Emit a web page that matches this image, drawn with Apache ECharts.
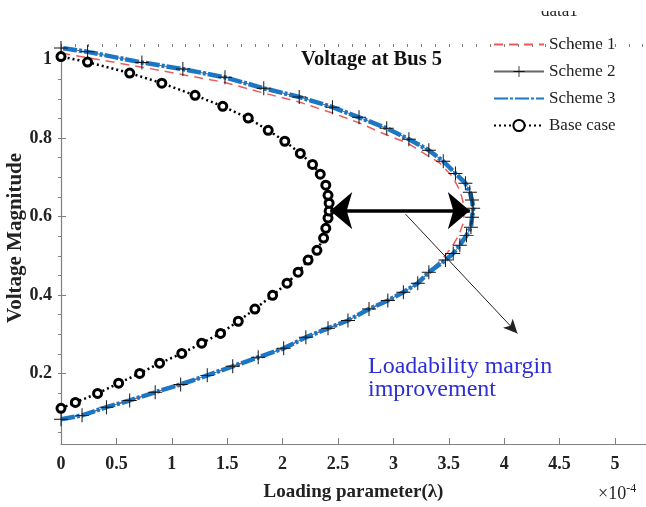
<!DOCTYPE html>
<html>
<head>
<meta charset="utf-8">
<script src="https://cdn.jsdelivr.net/npm/echarts@6/dist/echarts.min.js"></script>
<style>
  html, body { margin: 0; padding: 0; background: #fff; }
  #chart { width: 646px; height: 507px; }
</style>
</head>
<body>
<div id="chart"></div>
<script>
// loading parameter (x1e-4) and voltage magnitude
const scheme3Load = [0, 0.19, 0.41, 0.62, 0.85, 1.08, 1.32, 1.55, 1.78, 2.01, 2.21, 2.41, 2.59, 2.78, 2.95, 3.09, 3.22, 3.32, 3.47, 3.54, 3.60, 3.66, 3.70, 3.71, 3.72, 3.71, 3.69, 3.65, 3.56, 3.45, 3.32, 3.14, 2.94, 2.69, 2.45, 2.15, 1.83, 1.48, 1.10, 0.73, 0.24, 0]
const scheme3Volt = [0.083, 0.093, 0.114, 0.131, 0.152, 0.172, 0.195, 0.218, 0.241, 0.264, 0.292, 0.315, 0.335, 0.364, 0.386, 0.407, 0.430, 0.458, 0.489, 0.506, 0.527, 0.552, 0.573, 0.598, 0.621, 0.642, 0.662, 0.685, 0.710, 0.741, 0.769, 0.797, 0.825, 0.853, 0.879, 0.905, 0.927, 0.955, 0.976, 0.993, 1.020, 1.030]

// scheme 2 sits right on top of scheme 3
const scheme2Load = scheme3Load
const scheme2Volt = scheme3Volt

const scheme1Load = [0, 0.19, 0.41, 0.62, 0.85, 1.08, 1.32, 1.55, 1.78, 2.01, 2.21, 2.41, 2.59, 2.78, 2.95, 3.09, 3.22, 3.32, 3.47, 3.53, 3.59, 3.63, 3.64, 3.63, 3.60, 3.53, 3.42, 3.13, 2.88, 2.70, 2.45, 2.15, 1.83, 1.48, 0.73, 0]
const scheme1Volt = [0.083, 0.093, 0.114, 0.131, 0.152, 0.172, 0.195, 0.218, 0.241, 0.264, 0.292, 0.315, 0.335, 0.364, 0.386, 0.407, 0.430, 0.458, 0.501, 0.524, 0.552, 0.583, 0.611, 0.636, 0.667, 0.703, 0.736, 0.787, 0.815, 0.838, 0.864, 0.892, 0.915, 0.942, 0.981, 1.017]

const baseLoad = [0, 0.13, 0.33, 0.52, 0.71, 0.89, 1.09, 1.27, 1.44, 1.60, 1.75, 1.91, 2.04, 2.14, 2.23, 2.31, 2.37, 2.39, 2.41, 2.42, 2.42, 2.41, 2.39, 2.34, 2.27, 2.16, 2.02, 1.87, 1.69, 1.46, 1.21, 0.91, 0.62, 0.24, 0]
const baseVolt = [0.111, 0.126, 0.149, 0.175, 0.200, 0.226, 0.251, 0.277, 0.302, 0.333, 0.364, 0.399, 0.430, 0.458, 0.489, 0.514, 0.545, 0.570, 0.596, 0.614, 0.634, 0.654, 0.680, 0.708, 0.733, 0.761, 0.792, 0.820, 0.851, 0.881, 0.909, 0.940, 0.966, 0.994, 1.008]

// tick labels
const xTicks = [0, 0.5, 1, 1.5, 2, 2.5, 3, 3.5, 4, 4.5, 5]
const yTicks = [0.2, 0.4, 0.6, 0.8, 1]

// annotation arrows (data coords)
const marginArrow = [[2.43, 0.615], [3.69, 0.615]]
const pointerArrow = [[3.11, 0.606], [4.12, 0.302]]

const xMinor = []
for (let i = 0; i <= 42; i++) xMinor.push(i * 0.125)
const yMinor = []
for (let i = 1; i <= 20; i++) yMinor.push(+(i * 0.05).toFixed(2))

const pairs = (xs, ys) => xs.map((x, i) => [x, ys[i]])

const serif = "'Liberation Serif', 'Times New Roman', serif"
const plus = 'path://M-0.07,-1H0.07V-0.07H1V0.07H0.07V1H-0.07V0.07H-1V-0.07H-0.07Z'

const chart = echarts.init(document.getElementById('chart'), null, { renderer: 'canvas' })

const axisBase = {
    type: 'value',
    splitLine: { show: false },
}

const option = {
    animation: false,
    backgroundColor: '#fff',
    grid: { left: 61, right: 0, top: 44, bottom: 63, containLabel: false, outerBoundsMode: 'none' },
    xAxis: [
        {
            ...axisBase,
            min: 0,
            max: 5.28,
            name: 'Loading parameter(λ)',
            nameLocation: 'middle',
            nameGap: 39,
            nameTextStyle: { fontFamily: serif, fontWeight: 'bold', fontSize: 19, color: '#222' },
            axisLine: { lineStyle: { color: '#808080', width: 1.2 } },
            axisTick: { inside: true, length: 6, customValues: xTicks, lineStyle: { color: '#808080' } },
            axisLabel: { customValues: xTicks, margin: 11, fontFamily: serif, fontWeight: 'bold', fontSize: 18, color: '#222' },
        },
        {
            ...axisBase,
            min: 0,
            max: 5.28,
            axisLine: { show: false },
            axisTick: { inside: true, length: 3, customValues: xMinor, lineStyle: { color: '#808080' } },
            axisLabel: { show: false },
        },
    ],
    yAxis: [
        {
            ...axisBase,
            min: 0.02,
            max: 1.04,
            axisLine: { show: true, lineStyle: { color: '#808080', width: 1.2 } },
            axisTick: { show: true, inside: true, length: 5, customValues: yTicks, lineStyle: { color: '#808080' } },
            axisLabel: { customValues: yTicks, margin: 9, fontFamily: serif, fontWeight: 'bold', fontSize: 18, color: '#222' },
        },
        {
            ...axisBase,
            min: 0.02,
            max: 1.04,
            axisLine: { show: false },
            axisTick: { show: true, inside: true, length: 3, customValues: yMinor, lineStyle: { color: '#808080' } },
            axisLabel: { show: false },
        },
    ],
    legend: {
        orient: 'vertical',
        left: 488,
        top: 31,
        itemWidth: 50,
        itemHeight: 14,
        itemGap: 10,
        textStyle: { fontFamily: serif, fontSize: 17, color: '#222' },
        data: [
            { name: 'Scheme 1', itemStyle: { opacity: 0 } },
            { name: 'Scheme 2' },
            { name: 'Scheme 3', itemStyle: { opacity: 0 } },
            { name: 'Base case' },
        ],
    },
    series: [
        {
            name: 'Scheme 1',
            type: 'line',
            data: pairs(scheme1Load, scheme1Volt),
            showSymbol: false,
            symbol: 'none',
            color: '#ec5b5b',
            lineStyle: { color: '#ec5b5b', width: 1.5, type: [9, 6] },
        },
        {
            name: 'Scheme 2',
            type: 'line',
            data: pairs(scheme2Load, scheme2Volt),
            symbol: plus,
            symbolSize: 14,
            itemStyle: { color: '#111' },
            lineStyle: { color: '#666', width: 1 },
        },
        {
            name: 'Scheme 3',
            type: 'line',
            data: pairs(scheme3Load, scheme3Volt),
            symbol: 'none',
            color: '#1b76c6',
            lineStyle: { color: '#1b76c6', width: 4.5, type: [14, 2, 3, 2] },
        },
        {
            name: 'Base case',
            type: 'line',
            data: pairs(baseLoad, baseVolt),
            symbol: 'circle',
            symbolSize: 8,
            itemStyle: { color: '#fff', borderColor: '#000', borderWidth: 3 },
            lineStyle: { color: '#000', width: 2.5, type: [2, 3] },
            markLine: {
                silent: true,
                label: { show: false },
                data: [
                    [
                        { coord: marginArrow[0], symbol: 'arrow', symbolSize: [28, 22], lineStyle: { color: '#000', width: 3.5, type: 'solid' } },
                        { coord: marginArrow[1], symbol: 'arrow', symbolSize: [28, 22] },
                    ],
                    [
                        { coord: pointerArrow[0], symbol: 'none', lineStyle: { color: '#222', width: 1, type: 'solid' } },
                        { coord: pointerArrow[1], symbol: 'arrow', symbolSize: [10, 14] },
                    ],
                ],
            },
        },
    ],
    graphic: [
        {
            type: 'text',
            x: 16,
            y: 238,
            rotation: Math.PI / 2,
            style: {
                text: 'Voltage Magnitude',
                font: "bold 21px 'Liberation Serif', serif",
                fill: '#222',
                align: 'center',
                verticalAlign: 'middle',
            },
        },
        {
            type: 'text',
            left: 301,
            top: 49,
            style: { text: 'Voltage at Bus 5', font: "bold 20.5px 'Liberation Serif', serif", fill: '#111' },
        },
        {
            type: 'text',
            left: 368,
            top: 355,
            style: {
                text: 'Loadability margin\nimprovement',
                font: "24px 'Liberation Serif', serif",
                lineHeight: 23,
                fill: '#2e2ed6',
            },
        },
        {
            type: 'text',
            left: 541,
            top: 3,
            style: { text: 'data1', font: "17px 'Liberation Serif', serif", fill: '#222' },
        },
        {
            type: 'rect',
            left: 520,
            top: 0,
            shape: { width: 100, height: 11 },
            style: { fill: '#fff' },
            z: 100,
        },
        {
            type: 'text',
            left: 598,
            top: 483,
            style: {
                text: '×10{sup|-4}',
                font: "18px 'Liberation Serif', serif",
                fill: '#222',
                rich: { sup: { fontSize: 12, verticalAlign: 'top', padding: [0, 0, 10, 0], fontFamily: serif, fill: '#222' } },
            },
        },
    ],
}

chart.setOption(option)
</script>
</body>
</html>
